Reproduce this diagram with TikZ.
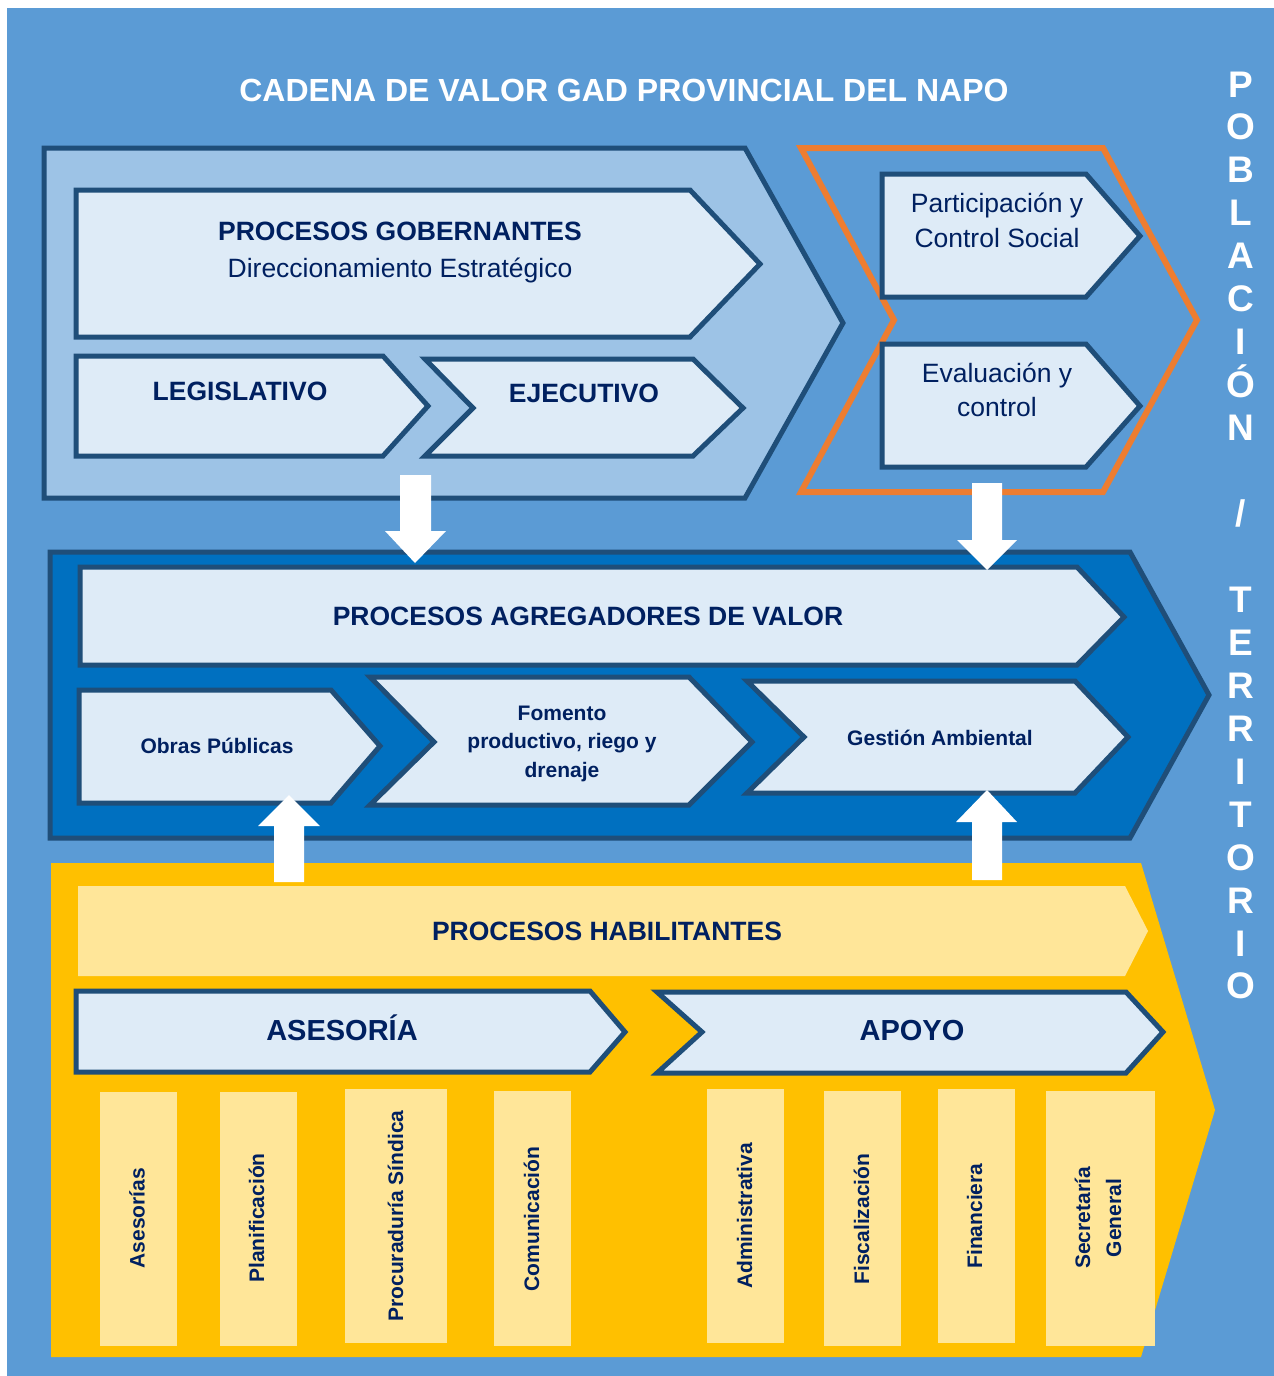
\documentclass[tikz,border=0pt]{standalone}
\usepackage{fontspec}
\setmainfont{Liberation Sans}
\definecolor{bgblue}{HTML}{5B9BD5}
\definecolor{ltblue}{HTML}{9DC3E6}
\definecolor{paleblue}{HTML}{DEEBF7}
\definecolor{darkb}{HTML}{1F4E79}
\definecolor{midblue}{HTML}{0070C0}
\definecolor{orng}{HTML}{ED7D31}
\definecolor{yel}{HTML}{FFC000}
\definecolor{ltyel}{HTML}{FFE699}
\definecolor{navy}{HTML}{002060}
\newcommand{\fs}[1]{\fontsize{#1}{#1}\selectfont}
\tikzset{
  frame/.style={draw=darkb, line width=5pt, line join=miter},
  pbox/.style={frame, fill=paleblue},
  big/.style={text=navy, font=\bfseries\fs{26.5}, anchor=base, inner sep=0pt},
  reg/.style={text=navy, font=\fs{26.5}, anchor=base, inner sep=0pt},
  med/.style={text=navy, font=\bfseries\fs{21}, anchor=base, inner sep=0pt},
  col/.style={fill=ltyel, draw=none},
  coltxt/.style={text=navy, font=\bfseries\fs{21}, anchor=base, rotate=90, inner sep=0pt},
  vlet/.style={text=white, font=\bfseries\fs{37}, anchor=base, inner sep=0pt},
  warrow/.style={fill=white, draw=none},
}
\begin{document}
\begin{tikzpicture}[x=1pt,y=-1pt]
\useasboundingbox (0,0) rectangle (1274,1376);
\fill[bgblue] (7,8) rectangle (1274,1376);

% title
\node[text=white, font=\bfseries\fs{32}, anchor=base, inner sep=0pt] (title) at (624,101) {CADENA DE VALOR GAD PROVINCIAL DEL NAPO};

% ---- top left : gobernantes
\draw[frame, fill=ltblue] (44,148) -- (745,148) -- (843,323) -- (745,498) -- (44,498) -- cycle;
\draw[pbox] (76,190) -- (690,190) -- (760,264) -- (690,337) -- (76,337) -- cycle;
\draw[pbox] (76,356) -- (383,356) -- (428,406) -- (383,456) -- (76,456) -- cycle;
\draw[pbox] (425,359) -- (693,359) -- (743,408) -- (693,456) -- (425,456) -- (473,408) -- cycle;
\node[big] (gob) at (400,240) {PROCESOS GOBERNANTES};
\node[reg] (dir) at (400,277) {Direccionamiento Estratégico};
\node[big] (leg) at (240,400) {LEGISLATIVO};
\node[big] (eje) at (584,402) {EJECUTIVO};

% ---- top right : orange
\draw[draw=orng, line width=6pt, line join=miter] (801,148) -- (1103,148) -- (1197,320) -- (1103,492) -- (801,492) -- (894,320) -- cycle;
\draw[pbox] (882,174) -- (1086,174) -- (1140,236) -- (1086,297) -- (882,297) -- cycle;
\draw[pbox] (882,344) -- (1086,344) -- (1140,406) -- (1086,467) -- (882,467) -- cycle;
\node[reg] (par1) at (997,212) {Participación y};
\node[reg] (par2) at (997,247) {Control Social};
\node[reg] (eva1) at (997,382) {Evaluación y};
\node[reg] (eva2) at (997,416) {control};

% ---- middle : agregadores
\draw[frame, fill=midblue] (50,552) -- (1130,552) -- (1209,695) -- (1130,838) -- (50,838) -- cycle;
\draw[pbox] (80,567) -- (1077,567) -- (1124,617) -- (1077,665) -- (80,665) -- cycle;
\draw[pbox] (79,690) -- (331,690) -- (380,746) -- (331,803) -- (79,803) -- cycle;
\draw[pbox] (370,677) -- (689,677) -- (752,742) -- (689,805) -- (370,805) -- (434,742) -- cycle;
\draw[pbox] (747,681) -- (1075,681) -- (1128,737) -- (1075,793) -- (747,793) -- (804,737) -- cycle;
\node[big] (agr) at (588,625) {PROCESOS AGREGADORES DE VALOR};
\node[med] (obr) at (217,753) {Obras Públicas};
\node[med] (fom1) at (562,720) {Fomento};
\node[med] (fom2) at (562,748) {productivo, riego y};
\node[med] (fom3) at (562,777) {drenaje};
\node[med] (ges) at (940,745) {Gestión Ambiental};

% ---- bottom : habilitantes
\fill[yel] (51,863) -- (1141,863) -- (1215,1110) -- (1141,1357) -- (51,1357) -- cycle;
\fill[ltyel] (78,886) -- (1125,886) -- (1148,931) -- (1125,976) -- (78,976) -- cycle;
\node[big] (hab) at (607,940) {PROCESOS HABILITANTES};
\draw[pbox] (76,991) -- (590,991) -- (625,1032) -- (590,1072) -- (76,1072) -- cycle;
\draw[pbox] (657,992) -- (1126,992) -- (1163,1032) -- (1126,1073) -- (657,1073) -- (702,1032) -- cycle;
\node[text=navy, font=\bfseries\fs{29}, anchor=base, inner sep=0pt] (ase) at (342,1040) {ASESORÍA};
\node[text=navy, font=\bfseries\fs{29}, anchor=base, inner sep=0pt] (apo) at (912,1040) {APOYO};

% columns
\fill[col] (100,1092) rectangle (177,1346);
\fill[col] (220,1092) rectangle (297,1346);
\fill[col] (345,1089) rectangle (447,1343);
\fill[col] (494,1091) rectangle (571,1346);
\fill[col] (707,1089) rectangle (784,1343);
\fill[col] (824,1091) rectangle (901,1346);
\fill[col] (938,1089) rectangle (1015,1343);
\fill[col] (1046,1091) rectangle (1155,1346);
\node[coltxt] (c1) at (144.5,1218) {Asesorías};
\node[coltxt] (c2) at (264,1218) {Planificación};
\node[coltxt] (c3) at (403,1216) {Procuraduría Síndica};
\node[coltxt] (c4) at (539,1219) {Comunicación};
\node[coltxt] (c5) at (752,1216) {Administrativa};
\node[coltxt] (c6) at (869,1219) {Fiscalización};
\node[coltxt] (c7) at (982,1216) {Financiera};
\node[text=navy, font=\bfseries\fontsize{21}{31}\selectfont, rotate=90, align=center, inner sep=0pt] (c8) at (1098,1218) {Secretaría\\General};

% white block arrows
\fill[warrow] (400,475) -- (431,475) -- (431,531) -- (446,531) -- (415,563) -- (385,531) -- (400,531) -- cycle;
\fill[warrow] (972,483) -- (1002,483) -- (1002,540) -- (1017,540) -- (987,570) -- (957,540) -- (972,540) -- cycle;
\fill[warrow] (274,882) -- (304,882) -- (304,826) -- (320,826) -- (289,795) -- (258,826) -- (274,826) -- cycle;
\fill[warrow] (972,880) -- (1002,880) -- (1002,822) -- (1017,822) -- (987,790) -- (956,822) -- (972,822) -- cycle;

% vertical letters
\foreach \ch [count=\i from 0] in {P,O,B,L,A,C,I,Ó,N,{},/,{},T,E,R,R,I,T,O,R,I,O}
  \node[vlet] (v\i) at (1241,{97+42.95*\i}) {\ch};
\end{tikzpicture}
\end{document}
